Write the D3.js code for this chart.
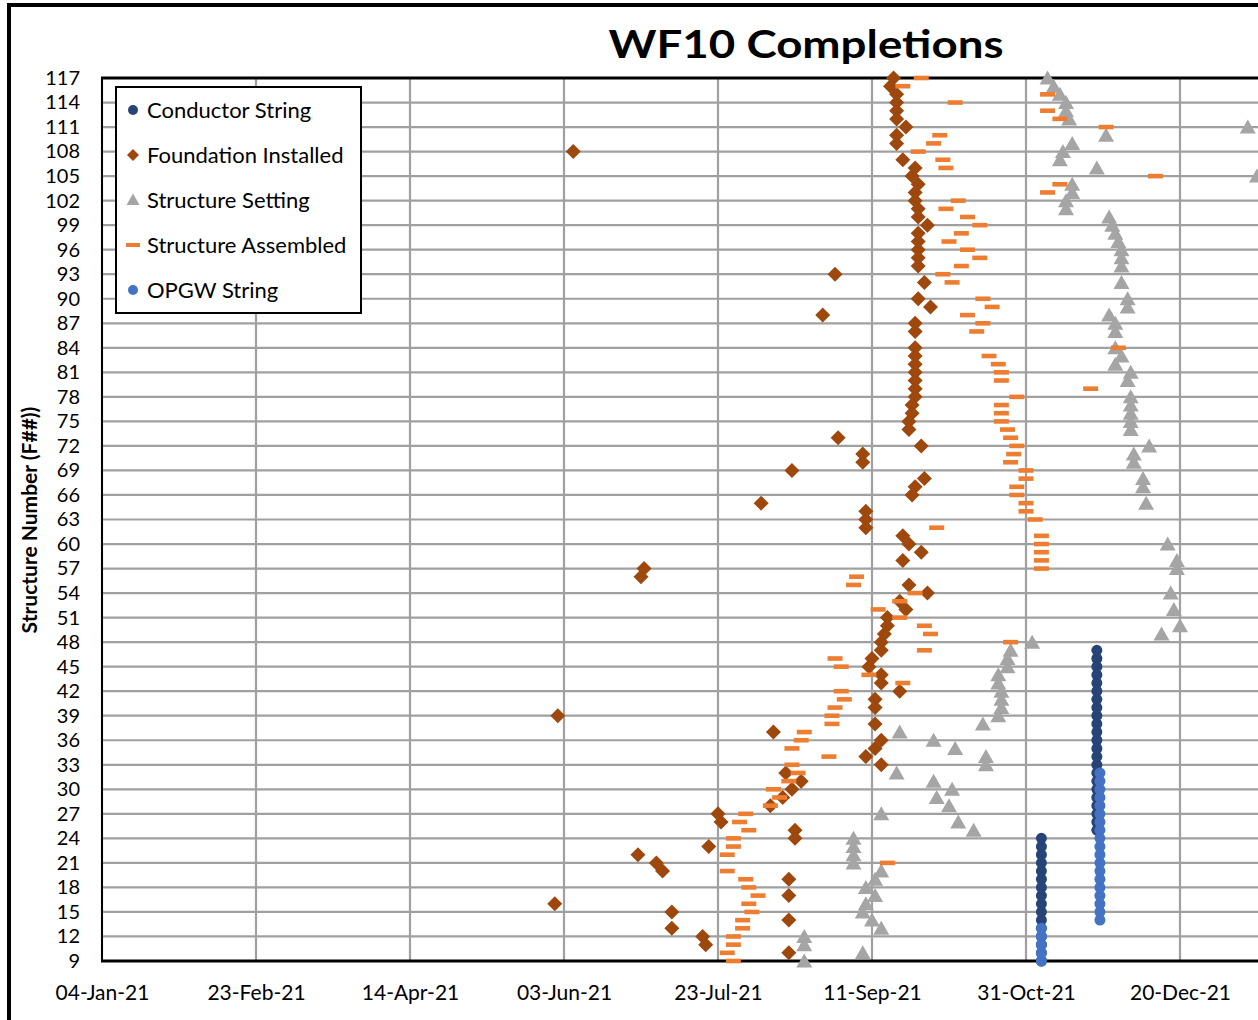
<!DOCTYPE html>
<html>
<head>
<meta charset="utf-8">
<script src="https://cdn.jsdelivr.net/npm/d3@7"></script>
<style>
  body { margin: 0; background: #fff; }
  svg { display: block; }
  text { font-family: Lato, "Open Sans", sans-serif; fill: #000; }
</style>
</head>
<body>
<svg id="chart" width="1258" height="1020"></svg>
<script>
// ---- data: [structure number, completion date] ----
const conductorString = [
  [9,"2021-11-05"],[10,"2021-11-05"],[11,"2021-11-05"],[12,"2021-11-05"],[13,"2021-11-05"],
  [14,"2021-11-05"],[15,"2021-11-05"],[16,"2021-11-05"],[17,"2021-11-05"],[18,"2021-11-05"],
  [19,"2021-11-05"],[20,"2021-11-05"],[21,"2021-11-05"],[22,"2021-11-05"],[23,"2021-11-05"],
  [24,"2021-11-05"],[25,"2021-11-23"],[26,"2021-11-23"],[27,"2021-11-23"],[28,"2021-11-23"],
  [29,"2021-11-23"],[30,"2021-11-23"],[31,"2021-11-23"],[32,"2021-11-23"],[33,"2021-11-23"],
  [34,"2021-11-23"],[35,"2021-11-23"],[36,"2021-11-23"],[37,"2021-11-23"],[38,"2021-11-23"],
  [39,"2021-11-23"],[40,"2021-11-23"],[41,"2021-11-23"],[42,"2021-11-23"],[43,"2021-11-23"],
  [44,"2021-11-23"],[45,"2021-11-23"],[46,"2021-11-23"],[47,"2021-11-23"]
];

const foundationInstalled = [
  [117,"2021-09-18"],[116,"2021-09-17"],[115,"2021-09-19"],[114,"2021-09-19"],[113,"2021-09-19"],
  [112,"2021-09-19"],[111,"2021-09-22"],[110,"2021-09-19"],[109,"2021-09-19"],[108,"2021-06-06"],
  [107,"2021-09-21"],[106,"2021-09-25"],[105,"2021-09-24"],[104,"2021-09-26"],[103,"2021-09-25"],
  [102,"2021-09-25"],[101,"2021-09-26"],[100,"2021-09-26"],[99,"2021-09-29"],[98,"2021-09-26"],
  [97,"2021-09-26"],[96,"2021-09-26"],[95,"2021-09-26"],[94,"2021-09-26"],[93,"2021-08-30"],
  [92,"2021-09-28"],[90,"2021-09-26"],[89,"2021-09-30"],[88,"2021-08-26"],[87,"2021-09-25"],
  [86,"2021-09-25"],[84,"2021-09-25"],[83,"2021-09-25"],[82,"2021-09-25"],[81,"2021-09-25"],
  [80,"2021-09-25"],[79,"2021-09-25"],[78,"2021-09-25"],[77,"2021-09-24"],[76,"2021-09-24"],
  [75,"2021-09-23"],[74,"2021-09-23"],[73,"2021-08-31"],[72,"2021-09-27"],[71,"2021-09-08"],
  [70,"2021-09-08"],[69,"2021-08-16"],[68,"2021-09-28"],[67,"2021-09-25"],[66,"2021-09-24"],
  [65,"2021-08-06"],[64,"2021-09-09"],[63,"2021-09-09"],[62,"2021-09-09"],[61,"2021-09-21"],
  [60,"2021-09-23"],[59,"2021-09-27"],[58,"2021-09-21"],[57,"2021-06-29"],[56,"2021-06-28"],
  [55,"2021-09-23"],[54,"2021-09-29"],[53,"2021-09-20"],[52,"2021-09-22"],[51,"2021-09-16"],
  [50,"2021-09-16"],[49,"2021-09-15"],[48,"2021-09-14"],[47,"2021-09-14"],[46,"2021-09-11"],
  [45,"2021-09-10"],[44,"2021-09-14"],[43,"2021-09-14"],[42,"2021-09-20"],[41,"2021-09-12"],
  [40,"2021-09-12"],[39,"2021-06-01"],[38,"2021-09-12"],[37,"2021-08-10"],[36,"2021-09-14"],
  [35,"2021-09-12"],[34,"2021-09-09"],[33,"2021-09-14"],[32,"2021-08-14"],[31,"2021-08-19"],
  [30,"2021-08-16"],[29,"2021-08-13"],[28,"2021-08-09"],[27,"2021-07-23"],[26,"2021-07-24"],
  [25,"2021-08-17"],[24,"2021-08-17"],[23,"2021-07-20"],[22,"2021-06-27"],[21,"2021-07-03"],
  [20,"2021-07-05"],[19,"2021-08-15"],[17,"2021-08-15"],[16,"2021-05-31"],[15,"2021-07-08"],
  [14,"2021-08-15"],[13,"2021-07-08"],[12,"2021-07-18"],[11,"2021-07-19"],[10,"2021-08-15"]
];

const structureSetting = [
  [117,"2021-11-07"],[116,"2021-11-09"],[115,"2021-11-11"],[114,"2021-11-13"],[113,"2021-11-13"],
  [112,"2021-11-14"],[111,"2022-01-11"],[110,"2021-11-26"],[109,"2021-11-15"],[108,"2021-11-12"],
  [107,"2021-11-11"],[106,"2021-11-23"],[105,"2022-01-14"],[104,"2021-11-15"],[103,"2021-11-15"],
  [102,"2021-11-13"],[101,"2021-11-13"],[100,"2021-11-27"],[99,"2021-11-28"],[98,"2021-11-29"],
  [97,"2021-11-30"],[96,"2021-12-01"],[95,"2021-12-01"],[94,"2021-12-01"],[92,"2021-12-01"],
  [90,"2021-12-03"],[89,"2021-12-03"],[88,"2021-11-27"],[87,"2021-11-29"],[86,"2021-11-29"],
  [84,"2021-11-29"],[83,"2021-12-01"],[82,"2021-11-29"],[81,"2021-12-04"],[80,"2021-12-03"],
  [78,"2021-12-04"],[77,"2021-12-04"],[76,"2021-12-04"],[75,"2021-12-04"],[74,"2021-12-04"],
  [72,"2021-12-10"],[71,"2021-12-05"],[70,"2021-12-05"],[68,"2021-12-08"],[67,"2021-12-08"],
  [65,"2021-12-09"],[60,"2021-12-16"],[58,"2021-12-19"],[57,"2021-12-19"],[54,"2021-12-17"],
  [52,"2021-12-18"],[50,"2021-12-20"],[49,"2021-12-14"],[48,"2021-11-02"],[47,"2021-10-26"],
  [46,"2021-10-25"],[45,"2021-10-25"],[44,"2021-10-22"],[43,"2021-10-22"],[42,"2021-10-23"],
  [41,"2021-10-23"],[40,"2021-10-23"],[39,"2021-10-22"],[38,"2021-10-17"],[37,"2021-09-20"],
  [36,"2021-10-01"],[35,"2021-10-08"],[34,"2021-10-18"],[33,"2021-10-18"],[32,"2021-09-19"],
  [31,"2021-10-01"],[30,"2021-10-07"],[29,"2021-10-02"],[28,"2021-10-06"],[27,"2021-09-14"],
  [26,"2021-10-09"],[25,"2021-10-14"],[24,"2021-09-05"],[23,"2021-09-05"],[22,"2021-09-05"],
  [21,"2021-09-05"],[20,"2021-09-14"],[19,"2021-09-12"],[18,"2021-09-09"],[17,"2021-09-12"],
  [16,"2021-09-09"],[15,"2021-09-08"],[14,"2021-09-11"],[13,"2021-09-14"],[12,"2021-08-20"],
  [11,"2021-08-20"],[10,"2021-09-08"],[9,"2021-08-20"]
];

const structureAssembled = [
  [117,"2021-09-27"],[116,"2021-09-21"],[115,"2021-11-07"],[114,"2021-10-08"],[113,"2021-11-07"],
  [112,"2021-11-11"],[111,"2021-11-26"],[110,"2021-10-03"],[109,"2021-10-01"],[108,"2021-09-26"],
  [107,"2021-10-04"],[106,"2021-10-05"],[105,"2021-12-12"],[104,"2021-11-11"],[103,"2021-11-07"],
  [102,"2021-10-09"],[101,"2021-10-05"],[100,"2021-10-12"],[99,"2021-10-16"],[98,"2021-10-10"],
  [97,"2021-10-06"],[96,"2021-10-12"],[95,"2021-10-16"],[94,"2021-10-10"],[93,"2021-10-04"],
  [92,"2021-10-07"],[90,"2021-10-17"],[89,"2021-10-20"],[88,"2021-10-12"],[87,"2021-10-17"],
  [86,"2021-10-15"],[84,"2021-11-30"],[83,"2021-10-19"],[82,"2021-10-22"],[81,"2021-10-23"],
  [80,"2021-10-23"],[79,"2021-11-21"],[78,"2021-10-28"],[77,"2021-10-23"],[76,"2021-10-23"],
  [75,"2021-10-23"],[74,"2021-10-25"],[73,"2021-10-26"],[72,"2021-10-28"],[71,"2021-10-27"],
  [70,"2021-10-26"],[69,"2021-10-31"],[68,"2021-10-31"],[67,"2021-10-28"],[66,"2021-10-28"],
  [65,"2021-10-31"],[64,"2021-10-31"],[63,"2021-11-03"],[62,"2021-10-02"],[61,"2021-11-05"],
  [60,"2021-11-05"],[59,"2021-11-05"],[58,"2021-11-05"],[57,"2021-11-05"],[56,"2021-09-06"],
  [55,"2021-09-05"],[54,"2021-09-25"],[53,"2021-09-20"],[52,"2021-09-13"],[51,"2021-09-20"],
  [50,"2021-09-28"],[49,"2021-09-30"],[48,"2021-10-26"],[47,"2021-09-28"],[46,"2021-08-30"],
  [45,"2021-09-01"],[44,"2021-09-10"],[43,"2021-09-21"],[42,"2021-09-01"],[41,"2021-09-02"],
  [40,"2021-08-30"],[39,"2021-08-29"],[38,"2021-08-29"],[37,"2021-08-20"],[36,"2021-08-19"],
  [35,"2021-08-16"],[34,"2021-08-28"],[33,"2021-08-16"],[32,"2021-08-18"],[31,"2021-08-15"],
  [30,"2021-08-10"],[29,"2021-08-12"],[28,"2021-08-09"],[27,"2021-08-01"],[26,"2021-07-30"],
  [25,"2021-08-02"],[24,"2021-07-28"],[23,"2021-07-28"],[22,"2021-07-26"],[21,"2021-09-16"],
  [20,"2021-07-26"],[19,"2021-08-01"],[18,"2021-08-02"],[17,"2021-08-05"],[16,"2021-08-02"],
  [15,"2021-08-03"],[14,"2021-07-31"],[13,"2021-07-31"],[12,"2021-07-28"],[11,"2021-07-28"],
  [10,"2021-07-26"],[9,"2021-07-28"]
];

const opgwString = [
  [9,"2021-11-05"],[10,"2021-11-05"],[11,"2021-11-05"],[12,"2021-11-05"],[13,"2021-11-05"],
  [14,"2021-11-24"],[15,"2021-11-24"],[16,"2021-11-24"],[17,"2021-11-24"],[18,"2021-11-24"],
  [19,"2021-11-24"],[20,"2021-11-24"],[21,"2021-11-24"],[22,"2021-11-24"],[23,"2021-11-24"],
  [24,"2021-11-24"],[25,"2021-11-24"],[26,"2021-11-24"],[27,"2021-11-24"],[28,"2021-11-24"],
  [29,"2021-11-24"],[30,"2021-11-24"],[31,"2021-11-24"],[32,"2021-11-24"]
];

// axis ticks (every 50 days)
const xTickDates = ["2021-01-04","2021-02-23","2021-04-14","2021-06-03","2021-07-23",
                    "2021-09-11","2021-10-31","2021-12-20"];
const yTickValues = d3.range(9, 118, 3);

// ---- layout ----
const svg = d3.select("#chart");
const parse = d3.utcParse("%Y-%m-%d");
const plot = { left: 102, top: 78, bottom: 961 };

const x = d3.scaleUtc()
  .domain([parse("2021-01-04"), parse("2022-02-08")])
  .range([plot.left, plot.left + 400 * 3.08]);
const y = d3.scaleLinear().domain([9, 117]).range([plot.bottom, plot.top]);

const gridColor = "#a0a0a0";

// outer chart-area border (left and top edges)
svg.append("line").attr("x1", 9).attr("x2", 9).attr("y1", 3).attr("y2", 1020)
  .attr("stroke", "#000").attr("stroke-width", 4);
svg.append("line").attr("x1", 7).attr("x2", 1258).attr("y1", 5).attr("y2", 5)
  .attr("stroke", "#000").attr("stroke-width", 4);

// gridlines
svg.append("g").selectAll("line").data(yTickValues).join("line")
  .attr("x1", plot.left).attr("x2", 1258)
  .attr("y1", d => y(d)).attr("y2", d => y(d))
  .attr("stroke", gridColor).attr("stroke-width", 2.2);
svg.append("g").selectAll("line").data(xTickDates.map(parse)).join("line")
  .attr("x1", d => x(d)).attr("x2", d => x(d))
  .attr("y1", plot.top).attr("y2", plot.bottom)
  .attr("stroke", gridColor).attr("stroke-width", 2.2);

// plot frame
svg.append("line").attr("x1", plot.left).attr("x2", plot.left)
  .attr("y1", plot.top).attr("y2", plot.bottom).attr("stroke", "#000").attr("stroke-width", 2);
svg.append("line").attr("x1", plot.left - 1).attr("x2", 1258)
  .attr("y1", plot.top).attr("y2", plot.top).attr("stroke", "#000").attr("stroke-width", 3);
svg.append("line").attr("x1", plot.left - 1).attr("x2", 1258)
  .attr("y1", plot.bottom).attr("y2", plot.bottom).attr("stroke", "#000").attr("stroke-width", 3);

// axes
const xAxis = d3.axisBottom(x)
  .tickValues(xTickDates.map(parse))
  .tickFormat(d3.utcFormat("%d-%b-%y"))
  .tickSize(0).tickPadding(24);
const gx = svg.append("g").attr("transform", `translate(0,${plot.bottom})`).call(xAxis);
gx.select(".domain").remove();
gx.selectAll("text").style("font-size", "21px").style("font-family", "Lato, sans-serif").attr("fill", "#000");

const yAxis = d3.axisLeft(y).tickValues(yTickValues).tickSize(0).tickPadding(22);
const gy = svg.append("g").attr("transform", `translate(${plot.left},0)`).call(yAxis);
gy.select(".domain").remove();
gy.selectAll("text").style("font-size", "20px").style("font-family", "Lato, sans-serif").attr("fill", "#000");

// titles
svg.append("text").attr("x", 806).attr("y", 58).attr("text-anchor", "middle")
  .style("font-size", "39px").style("font-weight", "bold")
  .attr("textLength", 395).attr("lengthAdjust", "spacingAndGlyphs")
  .text("WF10 Completions");
svg.append("text").attr("transform", "translate(37,520) rotate(-90)")
  .attr("text-anchor", "middle").style("font-size", "21px").style("font-weight", "bold")
  .text("Structure Number (F##))");

// ---- markers ----
const shapes = {
  circle: "M0,-5.5A5.5,5.5 0 1,1 0,5.5A5.5,5.5 0 1,1 0,-5.5Z",
  diamond: "M0,-7.5L7.5,0L0,7.5L-7.5,0Z",
  triangle: "M0,-7.5L8,6.5L-8,6.5Z",
  dash: "M-7.5,-2.3H7.5V2.3H-7.5Z"
};

const series = [
  { name: "Conductor String", data: conductorString, shape: "circle", color: "#264478" },
  { name: "Foundation Installed", data: foundationInstalled, shape: "diamond", color: "#9e480e" },
  { name: "Structure Setting", data: structureSetting, shape: "triangle", color: "#a5a5a5" },
  { name: "Structure Assembled", data: structureAssembled, shape: "dash", color: "#ed7d31" },
  { name: "OPGW String", data: opgwString, shape: "circle", color: "#4472c4" }
];

series.forEach(s => {
  svg.append("g").selectAll("path").data(s.data).join("path")
    .attr("d", shapes[s.shape])
    .attr("transform", d => `translate(${x(parse(d[1]))},${y(d[0])})`)
    .attr("fill", s.color);
});

// ---- legend ----
const legend = svg.append("g");
legend.append("rect").attr("x", 116).attr("y", 87).attr("width", 245).attr("height", 226)
  .attr("fill", "#fff").attr("stroke", "#000").attr("stroke-width", 2);
const legendShapes = {
  circle: "M0,-5A5,5 0 1,1 0,5A5,5 0 1,1 0,-5Z",
  diamond: "M0,-6L6,0L0,6L-6,0Z",
  triangle: "M0,-6.5L6.5,5L-6.5,5Z",
  dash: "M-7,-2H7V2H-7Z"
};
series.forEach((s, i) => {
  const cy = 110 + i * 45;
  legend.append("path").attr("d", legendShapes[s.shape])
    .attr("transform", `translate(133,${cy})`).attr("fill", s.color);
  legend.append("text").attr("x", 147).attr("y", cy + 8)
    .style("font-size", "22px").text(s.name);
});
</script>
</body>
</html>
